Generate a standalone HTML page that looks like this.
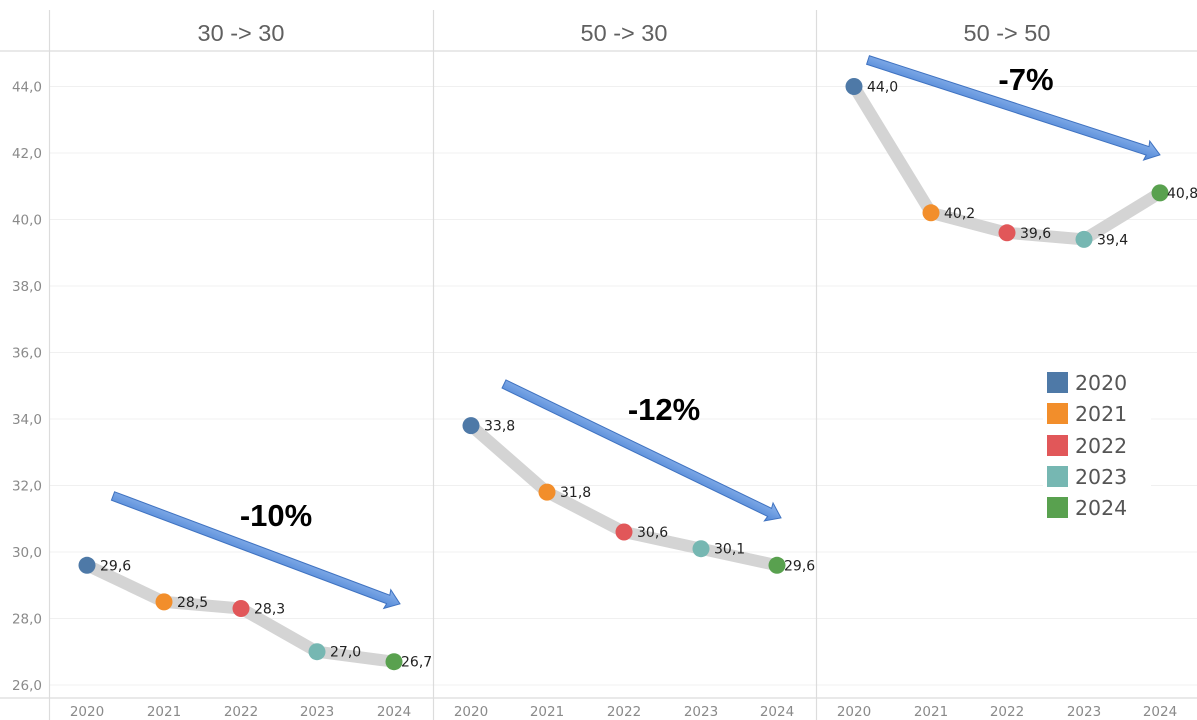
<!DOCTYPE html>
<html><head><meta charset="utf-8"><style>
html,body{margin:0;padding:0;background:#fff;}
svg{display:block;font-family:"Liberation Sans",sans-serif;}
</style></head><body>
<svg width="1197" height="720" viewBox="0 0 1197 720" xmlns="http://www.w3.org/2000/svg">
<defs>
<linearGradient id="ag" x1="0" y1="0" x2="0" y2="1">
<stop offset="0" stop-color="#8db4ec"/><stop offset="1" stop-color="#4f86d6"/>
</linearGradient>
</defs>
<rect width="1197" height="720" fill="#fff"/>
<!-- gridlines -->
<g stroke="#f0f0f0" stroke-width="1">
<line x1="49" x2="1197" y1="86.5" y2="86.5"/>
<line x1="49" x2="1197" y1="153" y2="153"/>
<line x1="49" x2="1197" y1="219.5" y2="219.5"/>
<line x1="49" x2="1197" y1="286" y2="286"/>
<line x1="49" x2="1197" y1="352.5" y2="352.5"/>
<line x1="49" x2="1197" y1="419" y2="419"/>
<line x1="49" x2="1197" y1="485.5" y2="485.5"/>
<line x1="49" x2="1197" y1="552" y2="552"/>
<line x1="49" x2="1197" y1="618.5" y2="618.5"/>
<line x1="49" x2="1197" y1="685" y2="685"/>
</g>
<!-- axes -->
<g stroke="#dcdcdc" stroke-width="1.2">
<line x1="0" x2="1197" y1="51" y2="51"/>
<line x1="0" x2="1197" y1="698" y2="698"/>
<line x1="49.5" x2="49.5" y1="10" y2="720"/>
<line x1="433.5" x2="433.5" y1="10" y2="720"/>
<line x1="816.5" x2="816.5" y1="10" y2="720"/>
</g>
<!-- headers -->
<g fill="#606060" font-size="23.5" text-anchor="middle">
<text x="241" y="41">30 -&gt; 30</text>
<text x="624" y="41">50 -&gt; 30</text>
<text x="1007" y="41">50 -&gt; 50</text>
</g>
<!-- y labels -->
<g fill="#8a8a8a" font-size="13.5" text-anchor="end" font-family="'DejaVu Sans',sans-serif">
<text x="42" y="91.5">44,0</text>
<text x="42" y="158">42,0</text>
<text x="42" y="224.5">40,0</text>
<text x="42" y="291">38,0</text>
<text x="42" y="357.5">36,0</text>
<text x="42" y="424">34,0</text>
<text x="42" y="490.5">32,0</text>
<text x="42" y="557">30,0</text>
<text x="42" y="623.5">28,0</text>
<text x="42" y="690">26,0</text>
</g>
<!-- x labels -->
<g fill="#8a8a8a" font-size="13.5" text-anchor="middle" font-family="'DejaVu Sans',sans-serif">
<text x="87" y="716">2020</text><text x="164" y="716">2021</text><text x="241" y="716">2022</text><text x="317" y="716">2023</text><text x="394" y="716">2024</text>
<text x="471" y="716">2020</text><text x="547" y="716">2021</text><text x="624" y="716">2022</text><text x="701" y="716">2023</text><text x="777" y="716">2024</text>
<text x="854" y="716">2020</text><text x="931" y="716">2021</text><text x="1007" y="716">2022</text><text x="1084" y="716">2023</text><text x="1160" y="716">2024</text>
</g>
<!-- lines -->
<g fill="none" stroke="#d4d4d4" stroke-width="12" stroke-linejoin="round" stroke-linecap="round">
<polyline points="87,565.3 164,601.9 241,608.5 317,651.7 394,661.7"/>
<polyline points="471,425.6 547,492.1 624,532 701,548.7 777,565.3"/>
<polyline points="854,86.5 931,212.8 1007,232.8 1084,239.4 1160,192.9"/>
</g>
<!-- dots -->
<g>
<circle cx="87" cy="565.3" r="8.5" fill="#4e79a7"/><circle cx="164" cy="601.9" r="8.5" fill="#f28e2b"/><circle cx="241" cy="608.5" r="8.5" fill="#e15759"/><circle cx="317" cy="651.7" r="8.5" fill="#76b7b2"/><circle cx="394" cy="661.7" r="8.5" fill="#59a14f"/>
<circle cx="471" cy="425.6" r="8.5" fill="#4e79a7"/><circle cx="547" cy="492.1" r="8.5" fill="#f28e2b"/><circle cx="624" cy="532" r="8.5" fill="#e15759"/><circle cx="701" cy="548.7" r="8.5" fill="#76b7b2"/><circle cx="777" cy="565.3" r="8.5" fill="#59a14f"/>
<circle cx="854" cy="86.5" r="8.5" fill="#4e79a7"/><circle cx="931" cy="212.8" r="8.5" fill="#f28e2b"/><circle cx="1007" cy="232.8" r="8.5" fill="#e15759"/><circle cx="1084" cy="239.4" r="8.5" fill="#76b7b2"/><circle cx="1160" cy="192.9" r="8.5" fill="#59a14f"/>
</g>
<!-- value labels -->
<g fill="#222" font-size="14" font-family="'DejaVu Sans',sans-serif">
<text x="100" y="570.5">29,6</text><text x="177" y="607">28,5</text><text x="254" y="613.5">28,3</text><text x="330" y="656.5">27,0</text><text x="401" y="666.5">26,7</text>
<text x="484" y="430.5">33,8</text><text x="560" y="497">31,8</text><text x="637" y="537">30,6</text><text x="714" y="553.5">30,1</text><text x="784" y="570.5">29,6</text>
<text x="867" y="91.5">44,0</text><text x="944" y="218">40,2</text><text x="1020" y="238">39,6</text><text x="1097" y="244.5">39,4</text><text x="1167" y="198">40,8</text>
</g>
<!-- arrows -->
<g fill="url(#ag)" stroke="#3f72c0" stroke-width="1">
<g transform="translate(113,496) rotate(20.6)"><polygon points="0,-4.5 294,-4.5 293,-10 306.6,0 293,10 294,4.5 0,4.5"/></g>
<g transform="translate(504,384) rotate(25.8)"><polygon points="0,-4.5 295,-4.5 294,-10 307.7,0 294,10 295,4.5 0,4.5"/></g>
<g transform="translate(868,60) rotate(18)"><polygon points="0,-4.5 294,-4.5 293,-10 307,0 293,10 294,4.5 0,4.5"/></g>
</g>
<!-- percent labels -->
<g fill="#000" font-size="31" font-weight="bold" text-anchor="middle">
<text x="276" y="526">-10%</text>
<text x="664" y="420">-12%</text>
<text x="1026" y="90">-7%</text>
</g>
<!-- legend -->
<rect x="1043" y="362" width="108" height="164" fill="#fff"/>
<g>
<rect x="1047" y="372" width="21" height="21" fill="#4e79a7"/>
<rect x="1047" y="403" width="21" height="21" fill="#f28e2b"/>
<rect x="1047" y="435" width="21" height="21" fill="#e15759"/>
<rect x="1047" y="466" width="21" height="21" fill="#76b7b2"/>
<rect x="1047" y="497" width="21" height="21" fill="#59a14f"/>
</g>
<g fill="#555" font-size="20.5" font-family="'DejaVu Sans',sans-serif">
<text x="1075" y="390">2020</text>
<text x="1075" y="421">2021</text>
<text x="1075" y="453">2022</text>
<text x="1075" y="484">2023</text>
<text x="1075" y="515">2024</text>
</g>
</svg>
</body></html>
